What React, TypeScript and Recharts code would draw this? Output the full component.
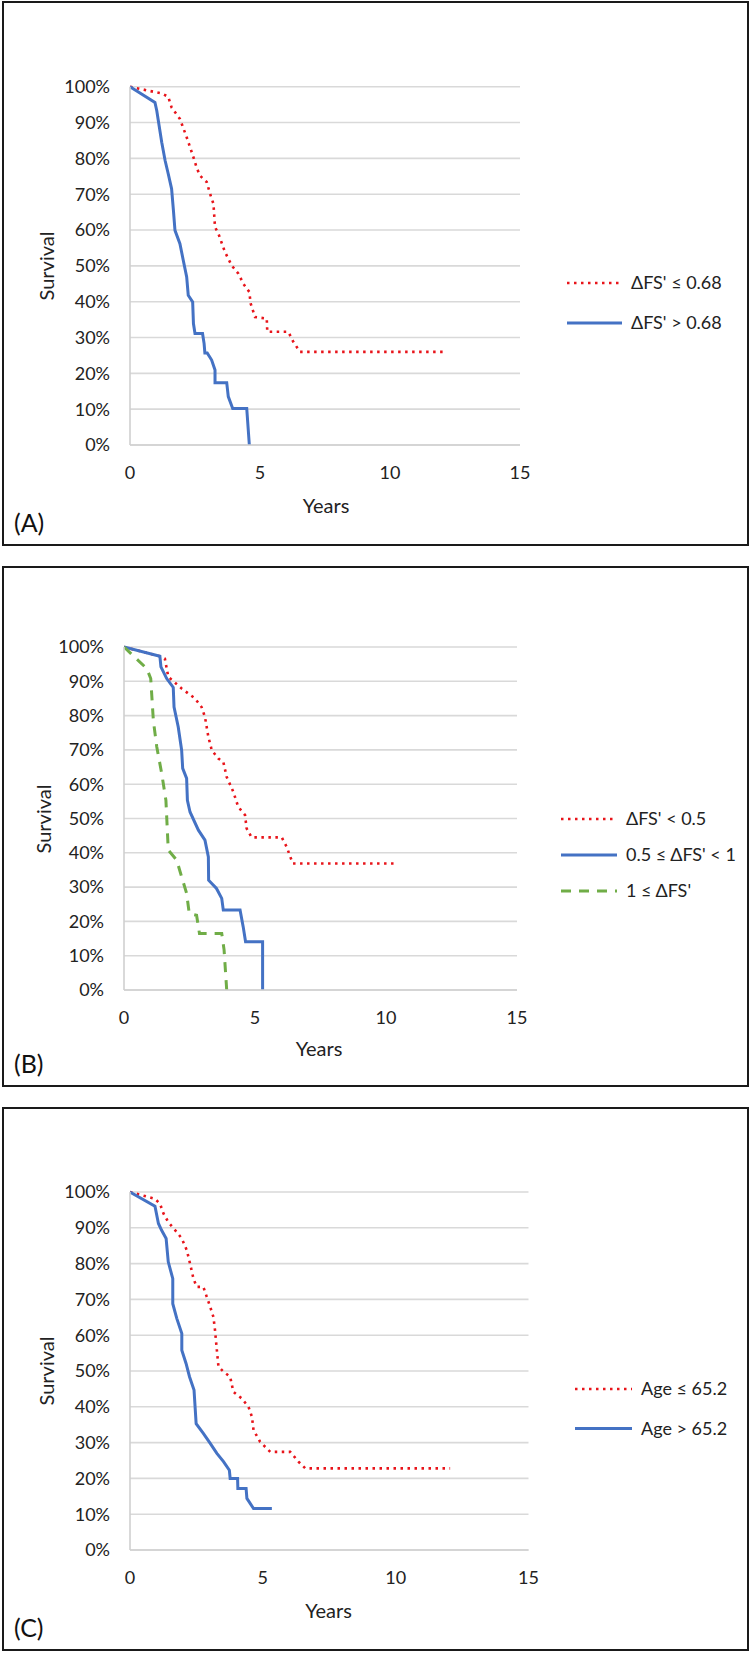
import React from 'react';
import { LineChart, Line, XAxis, YAxis, CartesianGrid } from 'recharts';

// ---------- Data (years, survival fraction) ----------
const aLowT = [0, 1.22, 1.47, 1.6, 1.92, 2.18, 2.44, 2.56, 2.69, 2.95, 3.08, 3.21, 3.27, 3.4, 3.65, 3.91, 4.17, 4.36, 4.59, 4.64, 4.81, 5.26, 5.28, 6.09, 6.28, 6.54, 12.15];
const aLowS = [1, 0.981, 0.972, 0.942, 0.91, 0.859, 0.803, 0.775, 0.752, 0.734, 0.701, 0.673, 0.608, 0.59, 0.539, 0.501, 0.478, 0.45, 0.427, 0.395, 0.357, 0.353, 0.316, 0.316, 0.288, 0.26, 0.26];
const aHighT = [0, 0.96, 1.03, 1.09, 1.22, 1.35, 1.47, 1.6, 1.67, 1.73, 1.92, 2.05, 2.18, 2.24, 2.41, 2.44, 2.5, 2.79, 2.85, 2.88, 2.97, 3.14, 3.27, 3.27, 3.72, 3.78, 3.95, 4.49, 4.59];
const aHighS = [1, 0.956, 0.933, 0.905, 0.845, 0.794, 0.757, 0.715, 0.655, 0.599, 0.562, 0.515, 0.469, 0.418, 0.399, 0.339, 0.311, 0.311, 0.283, 0.257, 0.257, 0.237, 0.209, 0.174, 0.174, 0.135, 0.102, 0.102, 0];

const bLowT = [0, 1.37, 1.56, 1.69, 2.2, 2.71, 2.96, 3.09, 3.22, 3.35, 3.6, 3.79, 3.92, 4.17, 4.36, 4.62, 4.68, 4.87, 6.02, 6.21, 6.44, 10.4];
const bLowS = [1, 0.973, 0.966, 0.913, 0.879, 0.85, 0.825, 0.796, 0.738, 0.699, 0.675, 0.665, 0.621, 0.578, 0.534, 0.51, 0.471, 0.445, 0.445, 0.417, 0.369, 0.369];
const bMidT = [0, 1.37, 1.41, 1.63, 1.88, 1.91, 2.07, 2.2, 2.24, 2.39, 2.42, 2.52, 2.84, 3.09, 3.22, 3.23, 3.53, 3.73, 3.79, 4.43, 4.55, 4.64, 5.29, 5.29];
const bMidS = [1, 0.973, 0.942, 0.908, 0.882, 0.825, 0.767, 0.699, 0.646, 0.617, 0.553, 0.519, 0.466, 0.437, 0.388, 0.32, 0.296, 0.267, 0.233, 0.233, 0.184, 0.141, 0.141, 0];
const bHighT = [0, 0.87, 1.02, 1.12, 1.25, 1.44, 1.6, 1.69, 2.01, 2.2, 2.39, 2.49, 2.77, 2.88, 3.73, 3.82, 3.92];
const bHighS = [1, 0.937, 0.908, 0.786, 0.709, 0.631, 0.553, 0.408, 0.379, 0.33, 0.282, 0.223, 0.218, 0.165, 0.165, 0.117, 0];

const cLowT = [0, 0.94, 1.13, 1.26, 1.44, 1.76, 1.95, 2.14, 2.26, 2.39, 2.51, 2.76, 2.89, 3.02, 3.14, 3.2, 3.27, 3.33, 3.52, 3.77, 3.89, 4.21, 4.46, 4.59, 4.65, 4.9, 5.28, 6.03, 6.34, 6.6, 12.05];
const cLowS = [1, 0.981, 0.967, 0.94, 0.916, 0.888, 0.87, 0.837, 0.8, 0.758, 0.735, 0.735, 0.707, 0.679, 0.651, 0.614, 0.558, 0.512, 0.498, 0.484, 0.442, 0.423, 0.4, 0.372, 0.335, 0.302, 0.274, 0.274, 0.247, 0.228, 0.228];
const cHighT = [0, 0.94, 1.07, 1.19, 1.36, 1.44, 1.61, 1.61, 1.76, 1.95, 1.95, 2.11, 2.24, 2.41, 2.49, 2.76, 3.02, 3.27, 3.52, 3.74, 3.77, 4.05, 4.06, 4.37, 4.4, 4.65, 5.34];
const cHighS = [1, 0.96, 0.912, 0.893, 0.87, 0.805, 0.758, 0.688, 0.647, 0.605, 0.558, 0.521, 0.484, 0.447, 0.353, 0.326, 0.298, 0.27, 0.247, 0.223, 0.2, 0.2, 0.172, 0.172, 0.144, 0.116, 0.116];

const xTicks = [0, 5, 10, 15];
const yTicks = [0, 0.1, 0.2, 0.3, 0.4, 0.5, 0.6, 0.7, 0.8, 0.9, 1];

const seriesA = ["ΔFS' ≤ 0.68", "ΔFS' > 0.68"];
const seriesB = ["ΔFS' < 0.5", "0.5 ≤ ΔFS' < 1", "1 ≤ ΔFS'"];
const seriesC = ['Age ≤ 65.2', 'Age > 65.2'];

const zip = (t: number[], s: number[]) => t.map((x, i) => ({ t: x, s: s[i] }));

const FONT = 'Lato, "Open Sans", "DejaVu Sans", sans-serif';
const RED = '#e8141a';
const BLUE = '#4472c4';
const GREEN = '#70ad47';

type Style = { color: string; dash?: string; width: number };
const styleRed: Style = { color: RED, dash: '2.5 4.5', width: 2.6 };
const styleBlue: Style = { color: BLUE, width: 3 };
const styleGreen: Style = { color: GREEN, dash: '10 8', width: 3 };

type SeriesDef = { name: string; data: { t: number; s: number }[]; st: Style };

type PanelProps = {
  top: number;
  bottom: number;
  x0: number;
  x15: number;
  y100: number;
  y0: number;
  series: SeriesDef[];
  legendX: number;
  legendY: number;
  legendGap: number;
  legendLineW: number;
  tag: string;
  survivalX: number;
  survivalY: number;
  yearsX: number;
  yearsY: number;
};

const Panel = (p: PanelProps) => {
  const H = p.bottom - p.top;
  const plotTop = p.y100 - p.top;
  const plotBottom = p.y0 - p.top;
  const xAxisH = 30;
  const mBottom = H - plotBottom - xAxisH;
  return (
    <div style={{ position: 'absolute', left: 0, top: p.top, width: 752, height: H }}>
      <div
        style={{
          position: 'absolute',
          left: 2,
          top: 0,
          width: 747,
          height: H,
          boxSizing: 'border-box',
          border: '2px solid #1a1a1a',
        }}
      />
      <div style={{ position: 'absolute', left: 0, top: 0 }}>
        <LineChart
          width={752}
          height={H}
          margin={{ top: plotTop, right: 752 - p.x15, bottom: mBottom, left: 0 }}
        >
          <CartesianGrid vertical={false} stroke="#d9d9d9" strokeWidth={1.6} />
          <XAxis
            dataKey="t"
            type="number"
            domain={[0, 15]}
            ticks={xTicks}
            allowDataOverflow
            height={xAxisH}
            tickLine={false}
            tickSize={0}
            tickMargin={21}
            axisLine={{ stroke: '#d0d0d0', strokeWidth: 1.6 }}
            tick={{ fill: '#222', fontSize: 18, fontFamily: FONT }}
          />
          <YAxis
            type="number"
            domain={[0, 1]}
            ticks={yTicks}
            width={p.x0}
            tickLine={false}
            tickSize={0}
            tickMargin={20}
            axisLine={{ stroke: '#d0d0d0', strokeWidth: 1.6 }}
            tick={{ fill: '#222', fontSize: 18, fontFamily: FONT }}
            tickFormatter={(v: number) => `${Math.round(v * 100)}%`}
            interval={0}
          />
          {p.series.map((s) => (
            <Line
              key={s.name}
              name={s.name}
              data={s.data}
              dataKey="s"
              type="linear"
              stroke={s.st.color}
              strokeWidth={s.st.width}
              strokeDasharray={s.st.dash}
              dot={false}
              activeDot={false}
              isAnimationActive={false}
            />
          ))}
        </LineChart>
      </div>
      <svg
        width={200}
        height={p.legendGap * p.series.length + 20}
        style={{ position: 'absolute', left: p.legendX, top: p.legendY - p.top - 10, overflow: 'visible' }}
      >
        {p.series.map((s, i) => {
          const y = 10 + i * p.legendGap;
          return (
            <g key={s.name}>
              <line x1={0} x2={p.legendLineW} y1={y} y2={y} stroke={s.st.color} strokeWidth={s.st.width} strokeDasharray={s.st.dash} />
              <text x={p.legendLineW + 9} y={y} dy="0.35em" fontFamily={FONT} fontSize={18} fill="#222">
                {s.name}
              </text>
            </g>
          );
        })}
      </svg>
      <div
        style={{
          position: 'absolute',
          left: p.survivalX,
          top: p.survivalY - p.top,
          transform: 'translate(-50%, -50%) rotate(-90deg)',
          fontFamily: FONT,
          fontSize: 20,
          color: '#222',
          whiteSpace: 'nowrap',
          lineHeight: '20px',
        }}
      >
        Survival
      </div>
      <div
        style={{
          position: 'absolute',
          left: p.yearsX,
          top: p.yearsY - p.top,
          transform: 'translate(-50%, -50%)',
          fontFamily: FONT,
          fontSize: 20,
          color: '#222',
          whiteSpace: 'nowrap',
          lineHeight: '20px',
        }}
      >
        Years
      </div>
      <div
        style={{
          position: 'absolute',
          left: 14,
          top: H - 36,
          fontFamily: FONT,
          fontSize: 25,
          color: '#111',
          lineHeight: '25px',
        }}
      >
        {p.tag}
      </div>
    </div>
  );
};

export default function App() {
  const A: SeriesDef[] = [
    { name: seriesA[0], data: zip(aLowT, aLowS), st: styleRed },
    { name: seriesA[1], data: zip(aHighT, aHighS), st: styleBlue },
  ];
  const B: SeriesDef[] = [
    { name: seriesB[0], data: zip(bLowT, bLowS), st: styleRed },
    { name: seriesB[1], data: zip(bMidT, bMidS), st: styleBlue },
    { name: seriesB[2], data: zip(bHighT, bHighS), st: styleGreen },
  ];
  const C: SeriesDef[] = [
    { name: seriesC[0], data: zip(cLowT, cLowS), st: styleRed },
    { name: seriesC[1], data: zip(cHighT, cHighS), st: styleBlue },
  ];
  return (
    <div style={{ position: 'absolute', left: 0, top: 0, width: 752, height: 1654, background: '#fff' }}>
      <Panel
        top={1}
        bottom={546}
        x0={130}
        x15={520}
        y100={86.7}
        y0={445}
        series={A}
        legendX={567}
        legendY={283}
        legendGap={40}
        legendLineW={55}
        tag="(A)"
        survivalX={45.5}
        survivalY={266}
        yearsX={326}
        yearsY={505}
      />
      <Panel
        top={566}
        bottom={1087}
        x0={124}
        x15={517}
        y100={647}
        y0={990}
        series={B}
        legendX={561}
        legendY={819}
        legendGap={36}
        legendLineW={56}
        tag="(B)"
        survivalX={43}
        survivalY={819}
        yearsX={319}
        yearsY={1048}
      />
      <Panel
        top={1107}
        bottom={1651}
        x0={130}
        x15={528.5}
        y100={1192}
        y0={1550}
        series={C}
        legendX={575}
        legendY={1389}
        legendGap={39.5}
        legendLineW={57}
        tag="(C)"
        survivalX={45.5}
        survivalY={1371}
        yearsX={328.5}
        yearsY={1610}
      />
    </div>
  );
}
